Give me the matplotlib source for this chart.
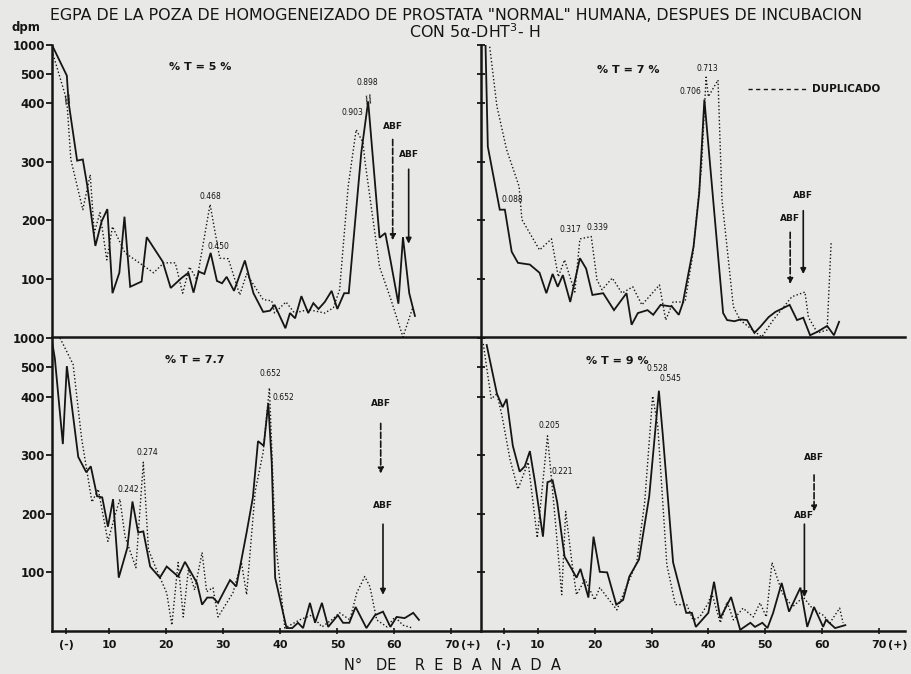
import matplotlib
matplotlib.use("Agg")
import matplotlib.pyplot as plt
import numpy as np

# broken dpm axis: linear to 400, then 400-500 and 500-1000 squeezed
val_pts = [0, 400, 500, 1000, 10000]
pos_pts = [0, 4, 4.5, 5, 14]

def fwd(v):
    return np.interp(v, val_pts, pos_pts)

def inv(u):
    return np.interp(u, pos_pts, val_pts)

# %T = 5 %
tl_solid_x = [0, 2.6, 2.9, 4.4, 5.4, 6.2, 7.6, 8.7, 9.7, 10.6, 11.8, 12.7, 13.7, 15.7, 16.6, 19.4, 20.8,
              22.7, 23.9, 24.8, 25.7, 26.7, 27.8, 28.9, 29.8, 30.6, 31.9, 33.8, 35.3, 37, 38.2, 39,
              40.9, 41.7, 42.6, 43.7, 44.9, 45.8, 46.7, 47.8, 49, 50, 51.2, 52, 54.2, 55.4, 57.4,
              58.4, 59.3, 60.7, 61.5, 62.6, 63.6]
tl_solid_y = [1000, 495, 405, 302, 304, 258, 156, 198, 219, 75, 110, 206, 86, 95, 171, 129, 84,
              101, 110, 76, 112, 108, 144, 96, 92, 103, 79, 131, 75, 43, 45, 55,
              15, 41, 32, 70, 41, 58, 48, 60, 79, 48, 75, 75, 316, 407, 170,
              178, 132, 57, 171, 75, 36]
tl_dot_x = [0, 2.6, 3.3, 5.4, 6.7, 7.4, 8.4, 9.6, 10.6, 12.8, 17.8, 19.6, 21.6, 22.9, 24.1, 25.4,
            26, 27.7, 29.4, 30.9, 32.9, 34.1, 37, 38.5, 39, 41, 42.5, 44.9, 47.8, 49.3, 50.4,
            51.9, 53.3, 54.5, 54.8, 57.4, 59.4, 61.5, 63.2]
tl_dot_y = [900, 410, 304, 218, 278, 178, 213, 132, 189, 144, 110, 127, 127, 75, 120, 98,
            132, 227, 135, 134, 72, 108, 64, 62, 41, 60, 41, 47, 41, 50, 81,
            258, 355, 333, 304, 120, 64, 0, 50]

# %T = 7 %
tr_solid_x = [0.7, 1.2, 3.3, 4.2, 5.4, 6.5, 8.6, 10.3, 11.5, 12.6, 13.5, 14.4, 15.7, 17.4, 18.5,
              19.6, 21.5, 23.4, 25.6, 26.5, 27.6, 29.3, 30.3, 31.6, 33.6, 34.8, 35.5, 37.4, 38.4,
              39.3, 42.6, 43.3, 44.6, 45.6, 46.8, 48.1, 49.1, 50.6, 51.8, 54.3, 55.6, 56.7, 57.9,
              59.2, 60.9, 62.1, 63]
tr_solid_y = [1400, 326, 218, 218, 146, 127, 124, 110, 75, 108, 86, 106, 60, 135, 117,
              72, 75, 46, 75, 21, 41, 46, 38, 55, 52, 38, 58, 155, 247,
              413, 41, 29, 27, 30, 29, 7, 17, 34, 43, 55, 29, 33, 3,
              9, 19, 3, 26]
tr_dot_x = [1.0, 2.8, 4.5, 6.7, 7.2, 10.3, 12.4, 13.6, 14.7, 16.5, 17.4, 19.4, 20.4, 21.3, 23.1,
            24.8, 26.7, 28.3, 29.4, 31.4, 32.5, 33.8, 35.9, 37.3, 38.8, 39.6, 40, 41.7, 42.4,
            44.4, 45.6, 47.4, 49.4, 51.4, 54.7, 57, 57.6, 59.2, 60.9, 61.6]
tr_dot_y = [1400, 395, 321, 258, 201, 149, 168, 103, 132, 77, 168, 172, 98, 81, 101,
            75, 86, 55, 67, 89, 29, 60, 60, 144, 292, 490, 423, 480, 235,
            52, 29, 15, 0, 29, 69, 77, 34, 7, 12, 161]

# %T = 7.7
bl_solid_x = [0, 0.5, 1.9, 2.6, 4.6, 6.0, 6.8, 7.9, 8.8, 9.8, 10.7, 11.7, 13.2, 14.1, 15.1, 16.0,
              17.2, 18.9, 20.1, 22.1, 23.3, 25.4, 26.3, 27.2, 28.2, 29.1, 31.2, 32.3, 34.1, 35.2,
              36.1, 37.1, 37.9, 38.5, 39.1, 41.1, 42.1, 43.1, 44.0, 45.2, 46.1, 47.3, 48.4, 50.1,
              51.0, 52.1, 53.2, 55.1, 56.6, 58.0, 59.3, 60.4, 61.8, 63.3, 64.3]
bl_solid_y = [950, 650, 319, 520, 297, 271, 281, 230, 228, 178, 225, 91, 142, 221, 168, 170,
              110, 91, 110, 93, 118, 82, 45, 57, 57, 48, 87, 76, 168, 228,
              324, 316, 389, 288, 91, 5, 5, 14, 5, 48, 14, 48, 7, 27,
              14, 14, 41, 5, 27, 33, 7, 24, 22, 31, 19]
bl_dot_x = [1.4, 3.7, 5.2, 7.0, 8.1, 9.8, 11.0, 11.9, 12.8, 14.7, 16.0, 16.9, 18.3, 20.1, 21.0,
            22.1, 23.0, 23.9, 25.0, 26.3, 27.1, 28.2, 29.1, 31.7, 33.2, 34.1, 35.6, 37.0, 38.1,
            39.1, 40.8, 43.4, 45.5, 47.3, 49.0, 50.4, 52.2, 53.4, 54.8, 55.7, 56.9, 58.7, 60.1,
            61.5, 63.2]
bl_dot_y = [1000, 550, 328, 220, 242, 153, 196, 225, 161, 108, 288, 139, 105, 65, 10,
            117, 24, 105, 70, 134, 67, 74, 24, 65, 117, 62, 238, 305, 430,
            161, 5, 19, 27, 7, 19, 31, 19, 65, 93, 76, 19, 7, 24,
            10, 5]

# %T = 9 %
br_solid_x = [1.0, 2.8, 3.8, 4.5, 5.6, 6.8, 7.7, 8.6, 9.5, 10.9, 11.7, 12.6, 13.4, 14.7, 16.0,
              16.8, 17.5, 18.9, 19.8, 20.9, 22.2, 23.8, 25.0, 26.1, 27.8, 29.6, 30.8, 31.3, 32.0,
              33.8, 36.1, 37.1, 37.8, 40.0, 41.0, 42.1, 44.0, 45.6, 47.4, 48.2, 49.5, 50.4, 51.4,
              52.9, 54.2, 56.2, 57.4, 58.6, 60.2, 60.7, 62.3, 64.1]
br_solid_y = [880, 410, 382, 396, 316, 272, 281, 307, 254, 161, 254, 257, 220, 127, 105,
              91, 106, 57, 161, 101, 100, 45, 53, 93, 122, 230, 357, 420, 333,
              117, 31, 31, 7, 31, 84, 22, 58, 2, 14, 7, 14, 5, 31,
              82, 33, 74, 7, 41, 7, 19, 5, 10]
br_dot_x = [0.4, 1.8, 2.8, 3.7, 5.1, 6.5, 8.3, 9.9, 11.7, 13.0, 14.2, 14.9, 16.0, 16.8, 18.3,
            20.0, 20.9, 23.9, 25.6, 27.4, 28.8, 30.2, 31.1, 32.7, 34.2, 36.2, 37.3, 38.5, 40.0,
            40.6, 42.1, 43.3, 44.4, 46.1, 47.9, 49.1, 50.2, 51.2, 53.0, 54.8, 56.7, 58.5, 60.2,
            61.4, 63.1, 63.7]
br_dot_y = [900, 396, 410, 367, 293, 242, 288, 159, 333, 196, 62, 204, 117, 62, 88,
            53, 74, 36, 76, 117, 220, 402, 350, 113, 45, 45, 19, 24, 48,
            65, 14, 50, 19, 39, 24, 48, 24, 117, 65, 41, 58, 36, 27,
            14, 39, 14]

y_ticks = [100, 200, 300, 400, 500, 1000]
y_labels = ['100', '200', '300', '400', '500', '1000']
x_ticks_left = [2.5, 10, 20, 30, 40, 50, 60, 70]
x_ticks_right = [4, 10, 20, 30, 40, 50, 60, 70]
x_labels = ['(-)', '10', '20', '30', '40', '50', '60', '70']

# (panel title, title pos), peak labels, ABF arrows (x, label y, start, end, dashed?)
panels = {
    'tl': dict(solid=(tl_solid_x, tl_solid_y), dot=(tl_dot_x, tl_dot_y),
               title=('% T = 5 %', 25.9, 620),
               peaks=[('0.898', 55.3, 473), ('0.903', 52.7, 385), ('0.468', 27.7, 240), ('0.450', 29.1, 155)],
               abf=[(59.7, 352, 343, 161, True), (62.5, 305, 292, 155, False)],
               breaks=[(2.85, 410), (55.5, 412)]),
    'tr': dict(solid=(tr_solid_x, tr_solid_y), dot=(tr_dot_x, tr_dot_y),
               title=('% T = 7 %', 25.9, 569),
               peaks=[('0.713', 39.8, 603), ('0.706', 36.8, 440), ('0.088', 5.5, 235),
                      ('0.317', 15.7, 184), ('0.339', 20.4, 187)],
               abf=[(56.7, 235, 221, 103, False), (54.4, 196, 184, 86, True)],
               breaks=[]),
    'bl': dict(solid=(bl_solid_x, bl_solid_y), dot=(bl_dot_x, bl_dot_y),
               title=('% T = 7.7', 25.0, 633),
               peaks=[('0.652', 38.2, 480), ('0.652', 40.5, 398), ('0.274', 16.8, 305), ('0.242', 13.3, 242)],
               abf=[(57.6, 380, 359, 264, True), (58.0, 206, 187, 57, False)],
               breaks=[]),
    'br': dict(solid=(br_solid_x, br_solid_y), dot=(br_dot_x, br_dot_y),
               title=('% T = 9 %', 23.9, 600),
               peaks=[('0.528', 31.0, 497), ('0.545', 33.3, 463), ('0.205', 12.1, 350), ('0.221', 14.3, 273)],
               abf=[(58.6, 288, 271, 199, True), (56.9, 189, 187, 53, False)],
               breaks=[]),
}

bg = '#e8e8e6'
ink = '#151515'
W, H = 912, 674
fig = plt.figure(figsize=(W / 100, H / 100), dpi=100, facecolor=bg)

rects = {
    'tl': [52 / W, 1 - 337 / H, 428 / W, 292 / H],
    'tr': [481 / W, 1 - 337 / H, 424 / W, 292 / H],
    'bl': [52 / W, 1 - 631 / H, 428 / W, 293 / H],
    'br': [481 / W, 1 - 631 / H, 424 / W, 293 / H],
}

for key, p in panels.items():
    ax = fig.add_axes(rects[key])
    ax.set_facecolor('none')
    ax.set_yscale('function', functions=(fwd, inv))
    ax.set_ylim(0, 1000)
    ax.set_xlim(0, 75 if key[1] == 'l' else 74.6)
    for s in ['top', 'right']:
        ax.spines[s].set_visible(False)
    for s in ['left', 'bottom']:
        ax.spines[s].set_color(ink)
        ax.spines[s].set_linewidth(1.8)

    sx, sy = p['solid']
    dx, dy = p['dot']
    ax.plot(sx, sy, color=ink, lw=1.3, solid_joinstyle='miter')
    ax.plot(dx, dy, color=ink, lw=1.0, linestyle=(0, (1, 1.6)))

    ax.set_yticks(y_ticks)
    if key[1] == 'l':
        ax.set_yticklabels(y_labels, fontsize=8.5, fontweight='bold', color=ink)
        ax.tick_params(axis='y', direction='out', length=4, width=1.3, pad=1, colors=ink)
    else:
        ax.set_yticklabels([])
        ax.tick_params(axis='y', direction='inout', length=6, width=1.3, colors=ink)
    ax.minorticks_off()

    if key[0] == 'b':
        ax.set_xticks(x_ticks_left if key[1] == 'l' else x_ticks_right)
        ax.set_xticklabels(x_labels, fontsize=8, fontweight='bold', color=ink)
        ax.tick_params(axis='x', direction='inout', length=5, width=1.2, pad=4, colors=ink)
        ax.text(73.4, -14 / 293, '(+)', transform=ax.get_xaxis_transform(), ha='center', va='center',
                fontsize=8, fontweight='bold', color=ink)
    else:
        ax.set_xticks([])

    t, tx, ty = p['title']
    ax.text(tx, ty, t, ha='center', va='center', fontsize=8, fontweight='bold', color=ink)
    for lab, px, py in p['peaks']:
        ax.text(px, py, lab, ha='center', va='center', fontsize=5.5, color=ink)
    for bx, by in p['breaks']:
        ax.text(bx, by, '//', ha='center', va='center', fontsize=7, fontweight='bold',
                rotation=20, color=ink)
    for ax_x, ly, y0, y1, dashed in p['abf']:
        ax.text(ax_x, ly, 'ABF', ha='center', va='bottom', fontsize=6.5, fontweight='bold', color=ink)
        ax.annotate('', xy=(ax_x, y1), xytext=(ax_x, y0),
                    arrowprops=dict(arrowstyle='-|>', color=ink, lw=1.2,
                                    linestyle='--' if dashed else '-', mutation_scale=8))
    if key == 'tr':
        ax.plot([47, 57.6], [450, 450], color=ink, lw=1.0, linestyle=(0, (3, 2.5)))
        ax.text(58.3, 450, 'DUPLICADO', ha='left', va='center', fontsize=7.5, fontweight='bold', color=ink)

fig.text(456 / W, 1 - 15 / H,
         'EGPA DE LA POZA DE HOMOGENEIZADO DE PROSTATA "NORMAL" HUMANA, DESPUES DE INCUBACION',
         ha='center', va='center', fontsize=11.4, color=ink)
fig.text(475 / W, 1 - 32 / H, 'CON 5α-DHT$^3$- H', ha='center', va='center', fontsize=11.4, color=ink)
fig.text(26 / W, 1 - 28 / H, 'dpm', ha='center', va='center', fontsize=8.5, fontweight='bold', color=ink)
fig.text(452 / W, 1 - 665 / H, 'N°   DE    R  E  B  A  N  A  D  A', ha='center', va='center',
         fontsize=10.5, color=ink)

fig.savefig('out.png', dpi=100, facecolor=bg)
